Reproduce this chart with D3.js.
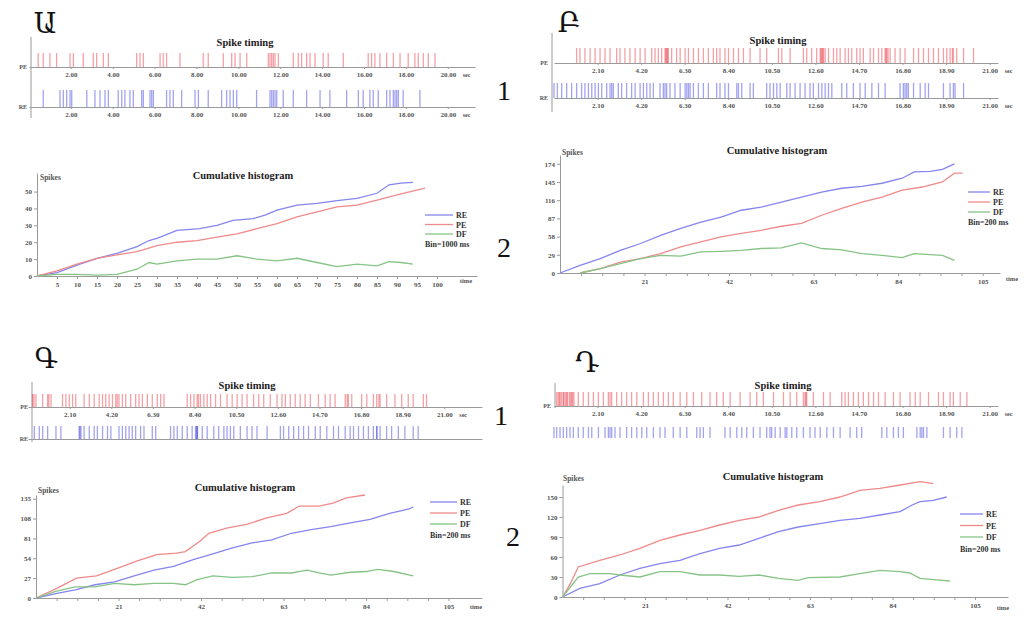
<!DOCTYPE html>
<html>
<head>
<meta charset="UTF-8">
<title>Spike timing / Cumulative histogram</title>
<script src="https://d3js.org/d3.v7.min.js"></script>
<style>
body { margin: 0; background: #fff; }
svg text { font-family: "Liberation Serif", "DejaVu Serif", serif; fill: #333; }
.axis path, .axis line, .vaxis { stroke: #9a9a9a; stroke-width: 1; }
.axis text { font-size: 7px; font-weight: bold; fill: #555; }
.title { font-size: 10.5px; font-weight: bold; fill: #222; }
.small { font-size: 6px; font-weight: bold; fill: #555; }
.legend { font-size: 8px; font-weight: bold; fill: #333; }
.big { font-family: "Liberation Serif", "DejaVu Serif", serif; font-size: 28px; fill: #111; }
</style>
</head>
<body>
<svg width="1033" height="630"></svg>
<script>
// ---- spike times (sec) ----
var spikesA_PE = [0.44,0.68,1.0,1.32,1.96,2.12,2.59,3.07,3.23,3.55,3.79,5.14,5.3,5.46,6.26,6.41,6.57,7.21,8.32,8.56,9.28,9.68,9.84,10.08,10.4,11.43,11.51,11.59,11.67,11.75,11.91,12.62,12.86,13.02,13.26,13.42,13.66,14.05,14.29,15.01,16.2,16.36,16.52,16.76,17.08,17.4,17.72,18.11,18.43,18.59,18.83,19.07,19.39];
var spikesA_RE = [0.68,1.48,1.64,1.8,1.96,2.04,2.76,3.15,3.39,3.63,3.79,4.26,4.43,4.58,4.82,4.98,5.38,5.46,5.78,5.86,5.94,6.57,6.73,6.89,7.29,7.93,8.09,8.56,9.2,9.44,9.6,9.76,9.92,10.87,11.51,11.59,11.67,11.75,11.83,12.14,12.62,13.26,13.9,14.37,15.17,15.73,15.96,16.28,16.44,16.68,17.08,17.24,17.4,17.48,17.56,17.64,17.87,18.67];

var spikesB_PE = [1.09,1.25,1.49,1.74,1.98,2.22,2.46,2.7,3.02,3.18,3.42,3.66,3.91,4.15,4.39,4.71,4.87,5.03,5.19,5.35,5.39,5.43,5.47,5.51,5.67,5.91,6.08,6.32,6.48,6.72,6.96,7.2,7.44,7.68,7.84,8.0,8.24,8.41,8.65,8.89,9.13,9.45,9.93,10.25,10.82,10.98,11.38,12.02,12.18,12.42,12.66,12.83,12.87,12.91,12.95,12.99,13.07,13.23,13.47,13.63,13.79,14.03,14.19,14.35,14.59,14.75,14.91,15.24,15.4,15.64,15.8,15.96,16.0,16.04,16.1,16.2,16.44,16.68,16.92,17.33,17.57,17.81,18.05,18.29,18.53,18.77,18.93,19.09,19.2,19.25,19.41,19.74,20.22];
var spikesB_RE = [0.0,0.16,0.37,0.61,0.85,1.09,1.33,1.49,1.66,1.82,1.98,2.14,2.3,2.54,2.7,2.78,2.86,3.1,3.26,3.5,3.74,3.91,4.15,4.31,4.47,4.63,4.79,5.11,5.27,5.35,5.43,5.59,5.83,6.08,6.32,6.4,6.48,6.56,6.72,6.96,7.2,7.44,7.84,8.0,8.24,8.41,8.81,8.89,9.05,9.45,9.61,10.25,10.41,10.58,10.74,10.9,11.22,11.38,11.62,11.86,12.1,12.34,12.5,12.75,12.91,13.07,13.23,13.39,13.87,14.11,14.43,14.75,15.0,15.32,15.64,15.96,16.68,16.84,16.92,17.0,17.08,17.33,17.65,17.89,18.05,18.77,19.09,19.25,19.33,19.74];

var spikesC_PE = [0.23,0.3,0.4,0.74,0.99,1.05,1.16,1.74,1.91,2.08,2.25,2.41,2.83,3.09,3.34,3.59,3.76,3.92,4.09,4.26,4.43,4.5,4.59,4.76,4.93,5.18,5.43,5.6,5.77,6.02,6.27,6.52,6.69,6.86,8.03,8.2,8.37,8.53,8.6,8.7,8.87,9.04,9.21,9.46,9.71,10.04,10.3,10.55,10.8,11.05,11.38,11.64,11.89,12.22,12.56,12.81,12.98,13.23,13.48,13.73,13.98,14.24,14.65,14.99,15.24,15.49,16.0,16.1,16.16,16.33,16.83,17.09,17.42,17.59,17.7,17.76,18.09,18.51,18.85,19.18,19.43,19.94,20.1];
var spikesC_RE = [0.32,0.57,0.74,0.99,1.41,1.66,2.58,2.62,2.67,2.83,3.09,3.34,3.5,3.76,4.01,4.18,4.59,4.76,4.93,5.1,5.26,5.43,5.68,5.85,6.27,6.44,7.19,7.36,7.53,7.78,8.03,8.28,8.45,8.5,8.53,8.55,8.79,9.04,9.37,9.62,9.88,10.04,10.21,10.38,10.71,11.05,11.3,11.55,12.06,12.73,12.89,13.15,13.4,13.65,13.9,14.15,14.49,14.74,15.07,15.41,15.66,16.0,16.25,16.42,16.67,16.92,17.17,17.42,17.59,17.6,17.76,18.09,18.34,18.68,19.01,19.43,19.68];

var spikesD_PE = [0.13,0.2,0.26,0.3,0.37,0.45,0.48,0.55,0.61,0.65,0.74,0.8,0.85,0.9,0.96,1.17,1.41,1.66,1.9,2.14,2.38,2.62,2.7,2.78,3.02,3.26,3.5,3.74,3.99,4.31,4.55,4.79,5.03,5.27,5.51,5.75,6.08,6.4,6.72,7.12,7.52,7.84,8.16,8.49,8.97,9.45,9.77,10.09,10.58,11.06,11.38,11.7,12.02,12.1,12.14,12.18,12.5,12.99,13.31,13.87,14.03,14.19,14.43,14.67,14.91,15.16,15.4,15.64,15.96,16.36,16.68,17.16,17.41,17.65,18.05,18.53,18.77,19.09,19.25,19.58,19.9];
var spikesD_RE = [0.0,0.13,0.29,0.45,0.61,0.77,0.93,1.17,1.41,1.66,1.82,2.14,2.46,2.62,2.7,2.78,2.94,3.18,3.5,3.74,3.99,4.23,4.47,4.79,5.11,5.35,5.75,6.08,6.4,6.88,7.04,7.2,7.52,8.24,8.49,8.81,9.05,9.29,9.61,9.93,10.25,10.41,10.49,10.66,10.9,11.14,11.22,11.46,11.7,12.02,12.34,12.58,12.83,13.15,13.47,13.79,14.27,14.59,14.83,15.8,16.04,16.36,16.6,16.84,17.49,17.65,17.73,17.81,17.97,18.77,19.09,19.41,19.66];

// ---- cumulative histograms: [time, spikes] ----
var histA_RE = [[0,0],[5,2],[10,6.5],[15,10.5],[20,13.4],[25,17.4],[28,21],[30,22.3],[35,27],[40.7,28],[45,30],[49,33],[54,34],[57,36],[60,39],[65,42],[70,43],[75,44.7],[80,46],[85,49],[88,54],[91,55],[94,55.5]];
var histA_PE = [[0,0],[5,3],[10,7],[15,10.5],[20,12.5],[25,14.4],[30,18],[35,20],[40,21],[45,23],[50,25],[55,28],[60,31],[65,35],[70,38],[75,41],[80,42],[85,45],[90,48],[97,52]];
var histA_DF = [[0,0],[5,1],[10,1],[15,0.5],[20,1],[25,4],[28,8],[30,7],[35,9],[40,10],[45,10],[50,12],[55,10],[60,9],[65,10.5],[70,8],[75,5.5],[80,7],[85,6],[88,8.5],[91,8],[94,7]];

var histB_RE = [[0,0],[5,12],[10,23],[15,36],[20,47],[25,60],[30,71],[35,81],[40,89],[45,100],[50,105],[55,113],[60,121],[65,129],[70,135],[75,138],[80,143],[85,151],[88,161],[92,162],[95,165],[98,174]];
var histB_PE = [[5,0],[10,7],[15,17.5],[20,23],[25,31],[30,41.5],[35,49.5],[40,57.5],[45,63],[50,68],[55,74.5],[60,79],[65,92],[70,103],[75,113],[80,121],[85,132],[90,137],[95,145],[98,159],[100,159]];
var histB_DF = [[5,0],[10,7],[15,15],[20,23],[25,28],[30,27],[35,33.5],[40,34.6],[45,36],[50,39],[55,40],[60,48],[65,39],[70,37],[75,31],[80,28],[85,24.5],[88,31],[95,28],[98,20]];

var histC_RE = [[0,0],[5,6],[10,11],[15,18],[20,22],[25,30],[30,38],[35,43],[40,52],[45,60],[50,68],[55,75],[60,79],[65,88],[70,93],[75,97],[80,102],[85,107],[90,115],[95,121],[96,124]];
var histC_PE = [[0,0],[5.3,13],[10.3,27],[15.4,30],[20.5,40],[25.6,50],[30.7,59],[35.8,61],[38,63],[41.7,77],[44,88],[48.5,95],[53.6,100],[58.7,109],[63.8,115],[67,125],[72,125],[75.6,129],[79,136],[83.7,140]];
var histC_DF = [[0,0],[5,9],[10,15],[15,15],[20,20],[25,18],[30,20],[35,20],[38,18],[41,25],[45,30],[50,28],[55,29],[60,34],[65,34],[69,38],[72,34],[75,31],[80,35],[84,36],[87,39],[91,36],[96,30]];

var histD_RE = [[0,0],[4.4,13],[9.5,20],[14.6,33],[19.7,43],[24.8,50],[29.9,55],[35,65],[40,73],[45,78],[50,88],[55,98],[60,105],[65.5,110],[70.6,115],[75.7,118],[80.8,123],[85.9,128],[89,138],[91,143],[94.4,145],[97.8,150]];
var histD_PE = [[0,0],[2,20],[4,45],[9.5,55],[14.6,63],[19.7,73],[24.8,85],[29.9,93],[35,100],[40,108],[45,115],[50,120],[55,130],[60,138],[65.5,143],[70.6,150],[75.7,160],[80.8,163],[86,168],[91,173],[94.4,170]];
var histD_DF = [[0,0],[2,15],[4,30],[7,35],[12,35],[14.6,33],[19.7,30],[24.8,38],[29.9,38],[35,33],[40,33],[45,31],[50,33],[55,28],[60,25],[62.5,29],[70.6,30],[75.7,35],[80.8,40],[85.9,38],[88.4,36],[91,28],[94.4,26],[98.6,24]];

// ---- tick labels ----
var rasterTicksA = ["2.00","4.00","6.00","8.00","10.00","12.00","14.00","16.00","18.00","20.00"];
var rasterTicksB = ["2.10","4.20","6.30","8.40","10.50","12.60","14.70","16.80","18.90","21.00"];
var histXTicksA = [5,10,15,20,25,30,35,40,45,50,55,60,65,70,75,80,85,90,95,100];
var histXTicksB = [21,42,63,84,105];
var histYTicksA = [0,10,20,30,40,50];
var histYTicksB = [0,29,58,87,116,145,174];
var histYTicksC = [0,27,54,81,108,135];
var histYTicksD = [0,30,60,90,120,150];
var legendNames = ["RE","PE","DF"];

var RED = "#e4202c", BLUE = "#2424dc";
var lineColors = {RE: "#8585f0", PE: "#f08a8a", DF: "#86c486"};

var svg = d3.select("svg");

function drawRaster(r) {
  var g = svg.append("g");
  var x = d3.scaleLinear().domain([0, r.tmax]).range([r.x0, r.x1]);
  var vals = r.ticks.map(Number);

  g.append("line").attr("class", "vaxis")
      .attr("x1", r.axisX).attr("x2", r.axisX)
      .attr("y1", r.axisY0).attr("y2", r.axisY1);

  g.append("text").attr("class", "title")
      .attr("x", r.titleX).attr("y", r.titleY)
      .attr("text-anchor", "middle").text("Spike timing");

  r.rows.forEach(function(row) {
    if (row.line) {
      g.append("g").attr("class", "axis")
          .attr("transform", "translate(0," + row.base + ")")
          .call(d3.axisBottom(x)
            .tickValues(row.labels ? vals : [])
            .tickFormat(function(d, i) { return r.ticks[i]; })
            .tickSize(2).tickSizeOuter(0).tickPadding(3));
      if (row.labels) {
        g.append("text").attr("class", "small")
            .attr("x", x(vals[vals.length - 1]) + 15).attr("y", row.base + 10)
            .text("sec");
      }
    }
    g.append("g").selectAll("line")
      .data(row.times)
      .enter().append("line")
        .attr("x1", function(d) { return x(d); })
        .attr("x2", function(d) { return x(d); })
        .attr("y1", row.base - row.h)
        .attr("y2", row.base)
        .attr("stroke", row.color)
        .attr("stroke-opacity", 0.42)
        .attr("stroke-width", 1.3);
    if (row.name) {
      g.append("text").attr("class", "small")
          .attr("x", r.axisX - 4).attr("y", row.base + 2)
          .attr("text-anchor", "end").text(row.name);
    }
  });
}

function drawHist(h) {
  var g = svg.append("g");
  var x = d3.scaleLinear().domain([0, h.tmax]).range([h.x0, h.x1]);
  var y = d3.scaleLinear().domain([0, h.vmax]).range([h.y0, h.y1]);

  g.append("g").attr("class", "axis")
      .attr("transform", "translate(0," + h.y0 + ")")
      .call(d3.axisBottom(x)
        .tickValues(d3.range(h.minorStep, h.xTicks[h.xTicks.length - 1] + 0.01, h.minorStep))
        .tickFormat(function(d) { return h.xTicks.indexOf(d) >= 0 ? d : ""; })
        .tickSize(3).tickSizeOuter(0).tickPadding(3));

  g.append("g").attr("class", "axis")
      .attr("transform", "translate(" + h.x0 + ",0)")
      .call(d3.axisLeft(y).tickValues(h.yTicks).tickSize(3).tickSizeOuter(0).tickPadding(2));

  g.append("text").attr("class", "title")
      .attr("x", h.titleX).attr("y", h.titleY)
      .attr("text-anchor", "middle").text("Cumulative histogram");
  g.append("text").attr("class", "small").style("font-size", "7.5px")
      .attr("x", h.spikesX).attr("y", h.spikesY).text("Spikes");
  g.append("text").attr("class", "small").style("font-size", "6.5px")
      .attr("x", h.timeX).attr("y", h.timeY).attr("text-anchor", "middle").text("time");

  var line = d3.line()
      .x(function(d) { return x(d[0]); })
      .y(function(d) { return y(d[1]); });

  h.series.forEach(function(s, i) {
    g.append("path")
        .attr("d", line(s))
        .attr("fill", "none")
        .attr("stroke", lineColors[legendNames[i]])
        .attr("stroke-width", 1.3);
  });

  var lg = g.append("g").attr("transform", "translate(" + h.legX + "," + h.legY + ")");
  legendNames.forEach(function(name, i) {
    lg.append("line")
        .attr("x1", 0).attr("x2", h.legW)
        .attr("y1", i * h.legStep).attr("y2", i * h.legStep)
        .attr("stroke", lineColors[name]).attr("stroke-width", 1.3);
    lg.append("text").attr("class", "legend")
        .attr("x", h.legW + 3).attr("y", i * h.legStep + 3).text(name);
  });
  lg.append("text").attr("class", "legend")
      .attr("x", 0).attr("y", 3 * h.legStep + 3).text(h.bin);
}

function bigText(t, x, y) {
  svg.append("text").attr("class", "big")
      .attr("x", x).attr("y", y).attr("text-anchor", "middle").text(t);
}

// ---- panel Ա ----
bigText("Ա", 45, 33);
drawRaster({
  x0: 29, x1: 475, tmax: 21.3, axisX: 31, axisY0: 37, axisY1: 118,
  titleX: 245, titleY: 46, ticks: rasterTicksA,
  rows: [
    {name: "PE", times: spikesA_PE, color: RED, base: 67, h: 14, line: true, labels: true},
    {name: "RE", times: spikesA_RE, color: BLUE, base: 107, h: 17, line: true, labels: true}
  ]
});
drawHist({
  x0: 37, x1: 477, tmax: 110, y0: 276, y1: 173, vmax: 61,
  xTicks: histXTicksA, minorStep: 5, yTicks: histYTicksA,
  titleX: 243, titleY: 179, spikesX: 40, spikesY: 180, timeX: 466, timeY: 283,
  series: [histA_RE, histA_PE, histA_DF],
  legX: 425, legY: 215, legW: 28, legStep: 9.5, bin: "Bin=1000 ms"
});
bigText("1", 504, 100);
bigText("2", 504, 257);

// ---- panel Բ ----
bigText("Բ", 569, 32);
drawRaster({
  x0: 554, x1: 998, tmax: 21.4, axisX: 552, axisY0: 33, axisY1: 112,
  titleX: 778, titleY: 44, ticks: rasterTicksB,
  rows: [
    {name: "PE", times: spikesB_PE, color: RED, base: 63, h: 15, line: true, labels: true},
    {name: "RE", times: spikesB_RE, color: BLUE, base: 98, h: 15, line: true, labels: true}
  ]
});
drawHist({
  x0: 560, x1: 1000, tmax: 109.3, y0: 273, y1: 155, vmax: 188,
  xTicks: histXTicksB, minorStep: 5.25, yTicks: histYTicksB,
  titleX: 777, titleY: 154, spikesX: 562, spikesY: 155, timeX: 1012, timeY: 281,
  series: [histB_RE, histB_PE, histB_DF],
  legX: 968, legY: 192, legW: 22, legStep: 10, bin: "Bin=200 ms"
});

// ---- panel Գ ----
bigText("Գ", 46, 368);
drawRaster({
  x0: 28, x1: 482, tmax: 22.9, axisX: 32, axisY0: 382, axisY1: 442,
  titleX: 247, titleY: 389, ticks: rasterTicksB,
  rows: [
    {name: "PE", times: spikesC_PE, color: RED, base: 407, h: 13, line: true, labels: true},
    {name: "RE", times: spikesC_RE, color: BLUE, base: 439, h: 13, line: true, labels: false}
  ]
});
drawHist({
  x0: 36, x1: 482, tmax: 113.5, y0: 598, y1: 495, vmax: 140,
  xTicks: histXTicksB, minorStep: 5.25, yTicks: histYTicksC,
  titleX: 245, titleY: 491, spikesX: 38, spikesY: 493, timeX: 476, timeY: 609,
  series: [histC_RE, histC_PE, histC_DF],
  legX: 430, legY: 502, legW: 27, legStep: 11, bin: "Bin=200 ms"
});
bigText("1", 501, 425);
bigText("2", 513, 546);

// ---- panel Դ ----
bigText("Դ", 587, 372);
drawRaster({
  x0: 554, x1: 998, tmax: 21.4, axisX: 555, axisY0: 383, axisY1: 408,
  titleX: 783, titleY: 389, ticks: rasterTicksB,
  rows: [
    {name: "PE", times: spikesD_PE, color: RED, base: 406, h: 14, line: true, labels: true},
    {name: "", times: spikesD_RE, color: BLUE, base: 438, h: 11, line: false, labels: false}
  ]
});
drawHist({
  x0: 562.5, x1: 1008, tmax: 113.4, y0: 597, y1: 485, vmax: 168,
  xTicks: histXTicksB, minorStep: 5.25, yTicks: histYTicksD,
  titleX: 773, titleY: 480, spikesX: 563, spikesY: 481, timeX: 1003, timeY: 610,
  series: [histD_RE, histD_PE, histD_DF],
  legX: 960, legY: 514, legW: 23, legStep: 11.5, bin: "Bin=200 ms"
});
</script>
</body>
</html>
